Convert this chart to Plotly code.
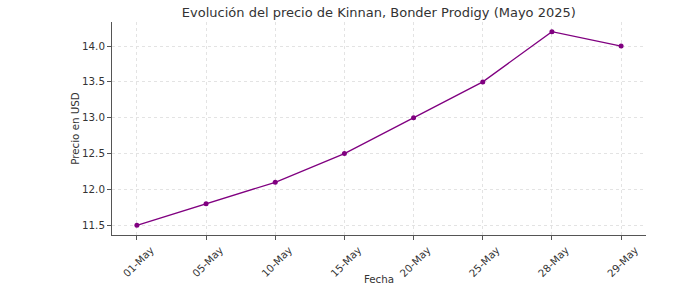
import plotly.graph_objects as go

fechas = ["01-May", "05-May", "10-May", "15-May", "20-May", "25-May", "28-May", "29-May"]
precios = [11.5, 11.8, 12.1, 12.5, 13.0, 13.5, 14.2, 14.0]
y_ticks = [11.5, 12.0, 12.5, 13.0, 13.5, 14.0]
y_tick_labels = ["11.5", "12.0", "12.5", "13.0", "13.5", "14.0"]

fig = go.Figure()
fig.add_trace(go.Scatter(
    x=list(range(len(fechas))), y=precios, mode="lines+markers",
    line=dict(color="#800080", width=1.3),
    marker=dict(color="#800080", size=5),
))

axis_common = dict(
    showgrid=True, gridcolor="#e3e3e3", griddash="dot", gridwidth=0.8,
    showline=True, linecolor="#555555", linewidth=1,
    ticks="outside", ticklen=4, tickcolor="#555555",
    tickfont=dict(family="DejaVu Sans", size=10.3, color="#333333"),
    zeroline=False, automargin=False,
)

fig.update_layout(
    width=699, height=285,
    margin=dict(l=112, r=53, t=22, b=50),
    plot_bgcolor="white", paper_bgcolor="white",
    showlegend=False,
    font=dict(family="DejaVu Sans", color="#333333"),
    title=dict(text="Evolución del precio de Kinnan, Bonder Prodigy (Mayo 2025)",
               x=0.542, xanchor="center", y=0.955, yanchor="middle",
               font=dict(family="DejaVu Sans", size=13, color="#333333")),
    xaxis=dict(axis_common, range=[-0.36, 7.36],
               tickmode="array", tickvals=list(range(len(fechas))), ticktext=fechas,
               tickangle=-45, ticklabelshift=14,
               title=dict(text="Fecha", font=dict(family="DejaVu Sans", size=10.3, color="#333333"), standoff=0)),
    yaxis=dict(axis_common, range=[11.365, 14.335],
               tickmode="array", tickvals=y_ticks, ticktext=y_tick_labels,
               title=dict(text="Precio en USD", font=dict(family="DejaVu Sans", size=10.3, color="#333333"), standoff=0)),
)

fig.write_html("out.html")
